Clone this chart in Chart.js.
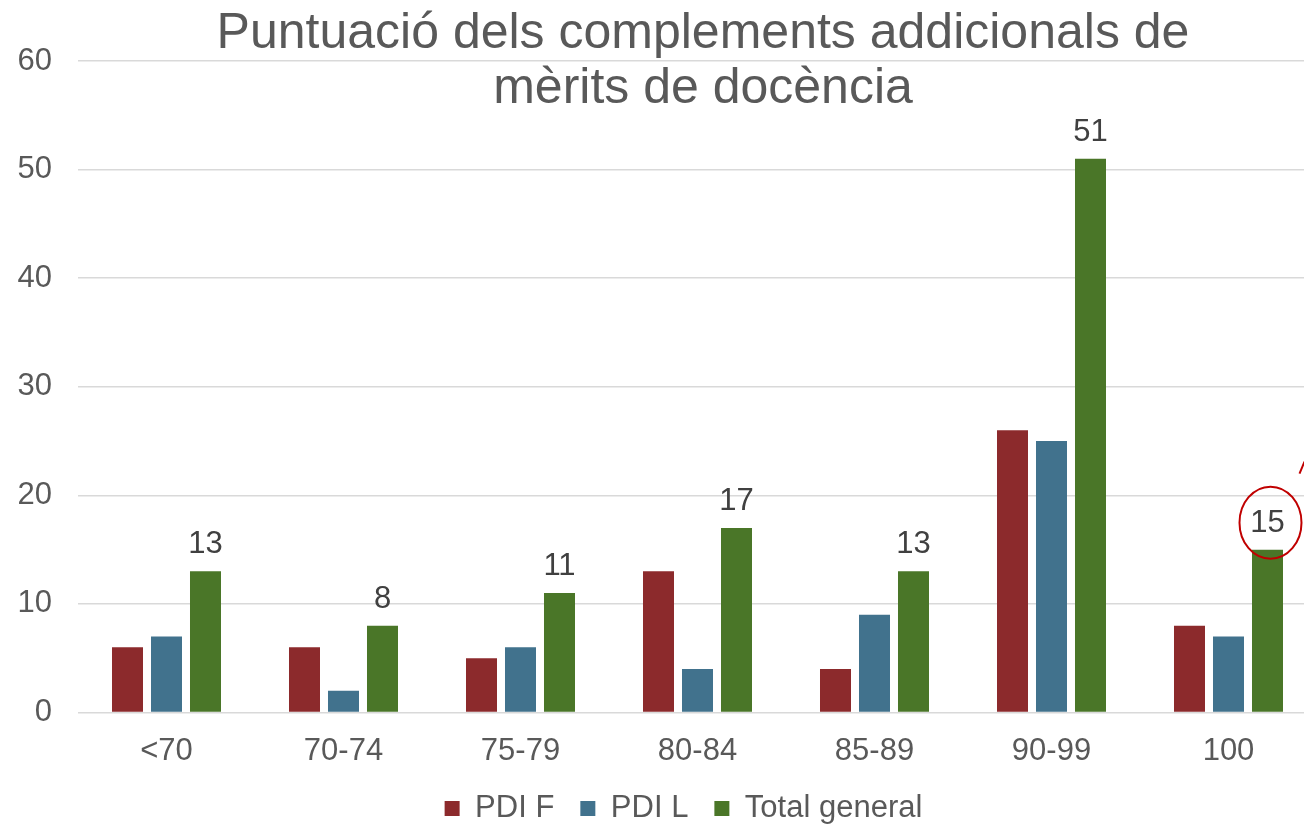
<!DOCTYPE html>
<html>
<head>
<meta charset="utf-8">
<script src="https://cdn.jsdelivr.net/npm/chart.js@4"></script>
<style>
  html, body { margin: 0; padding: 0; background: #fff; overflow: hidden; }
  #wrap { width: 1304px; height: 827px; overflow: hidden; position: relative; }
  #box { width: 1320px; height: 827px; position: absolute; left: 0; top: 0; }
</style>
</head>
<body>
<div id="wrap"><div id="box"><canvas id="chart"></canvas></div></div>
<script>
// categories and values
const categories = ['<70', '70-74', '75-79', '80-84', '85-89', '90-99', '100'];
const pdiF = [6, 6, 5, 13, 4, 26, 8];
const pdiL = [7, 2, 6, 4, 9, 25, 7];
const totalGeneral = [13, 8, 11, 17, 13, 51, 15];
const yTicks = [0, 10, 20, 30, 40, 50, 60];
const titleLines = ['Puntuació dels complements addicionals de', 'mèrits de docència'];

const FONT = "'Liberation Sans', Arial, sans-serif";
const GREY = '#595959';

// titol sobreposat a l'area del grafic
const titlePlugin = {
    id: 'overlayTitle',
    afterLayout(chart) {
        // la llegenda queda centrada una mica a la dreta
        chart.legend.left += 25;
        chart.legend.right += 25;
    },
    afterDraw(chart) {
        const ctx = chart.ctx;
        ctx.save();
        ctx.font = '50px ' + FONT;
        ctx.fillStyle = GREY;
        ctx.textAlign = 'center';
        ctx.textBaseline = 'alphabetic';
        ctx.fillText(titleLines[0], 703, 48);
        ctx.fillText(titleLines[1], 703, 103);
        ctx.restore();
    }
};

// etiquetes de dades nomes per al total
const labelPlugin = {
    id: 'totalLabels',
    afterDatasetsDraw(chart) {
        const ctx = chart.ctx;
        const meta = chart.getDatasetMeta(2);
        ctx.save();
        ctx.font = '31px ' + FONT;
        ctx.fillStyle = '#404040';
        ctx.textAlign = 'center';
        ctx.textBaseline = 'alphabetic';
        meta.data.forEach((bar, i) => {
            ctx.fillText(String(totalGeneral[i]), bar.x, bar.y - 18);
        });

        // cercle vermell al voltant del darrer valor
        const last = meta.data[meta.data.length - 1];
        ctx.strokeStyle = '#c00000';
        ctx.lineWidth = 2;
        ctx.beginPath();
        ctx.ellipse(last.x + 3, last.y - 27, 31, 36, 0, 0, Math.PI * 2);
        ctx.stroke();
        ctx.beginPath();
        ctx.moveTo(last.x + 32, last.y - 76);
        ctx.lineTo(last.x + 37, last.y - 88);
        ctx.stroke();
        ctx.restore();
    }
};

new Chart(document.getElementById('chart'), {
    type: 'bar',
    data: {
        labels: categories,
        datasets: [
            { label: 'PDI F', data: pdiF, backgroundColor: '#8c2a2c' },
            { label: 'PDI L', data: pdiL, backgroundColor: '#41728d' },
            { label: 'Total general', data: totalGeneral, backgroundColor: '#4a7628' }
        ]
    },
    options: {
        responsive: true,
        maintainAspectRatio: false,
        animation: false,
        devicePixelRatio: 1,
        layout: { padding: { left: 0, right: 3, top: 61, bottom: 0 } },
        datasets: {
            bar: { categoryPercentage: 0.661, barPercentage: 0.795 }
        },
        plugins: {
            title: { display: false },
            tooltip: { enabled: false },
            legend: {
                position: 'bottom',
                maxHeight: 60,
                labels: {
                    font: { family: FONT, size: 31 },
                    color: GREY,
                    boxWidth: 15,
                    boxHeight: 15,
                    padding: 26
                }
            }
        },
        scales: {
            x: {
                afterFit(scale) { scale.height = 54.5; },
                grid: { display: false },
                border: { display: false },
                ticks: {
                    font: { family: FONT, size: 31 },
                    color: GREY,
                    padding: 12,
                    maxRotation: 0
                }
            },
            y: {
                min: 0,
                max: 60,
                afterFit(scale) { scale.width = 78; },
                afterBuildTicks(scale) { scale.ticks = yTicks.map(v => ({ value: v })); },
                grid: { color: '#d9d9d9', lineWidth: 1.5, drawTicks: false },
                border: { display: false },
                ticks: {
                    font: { family: FONT, size: 31 },
                    color: GREY,
                    padding: 26
                }
            }
        }
    },
    plugins: [titlePlugin, labelPlugin]
});
</script>
</body>
</html>
